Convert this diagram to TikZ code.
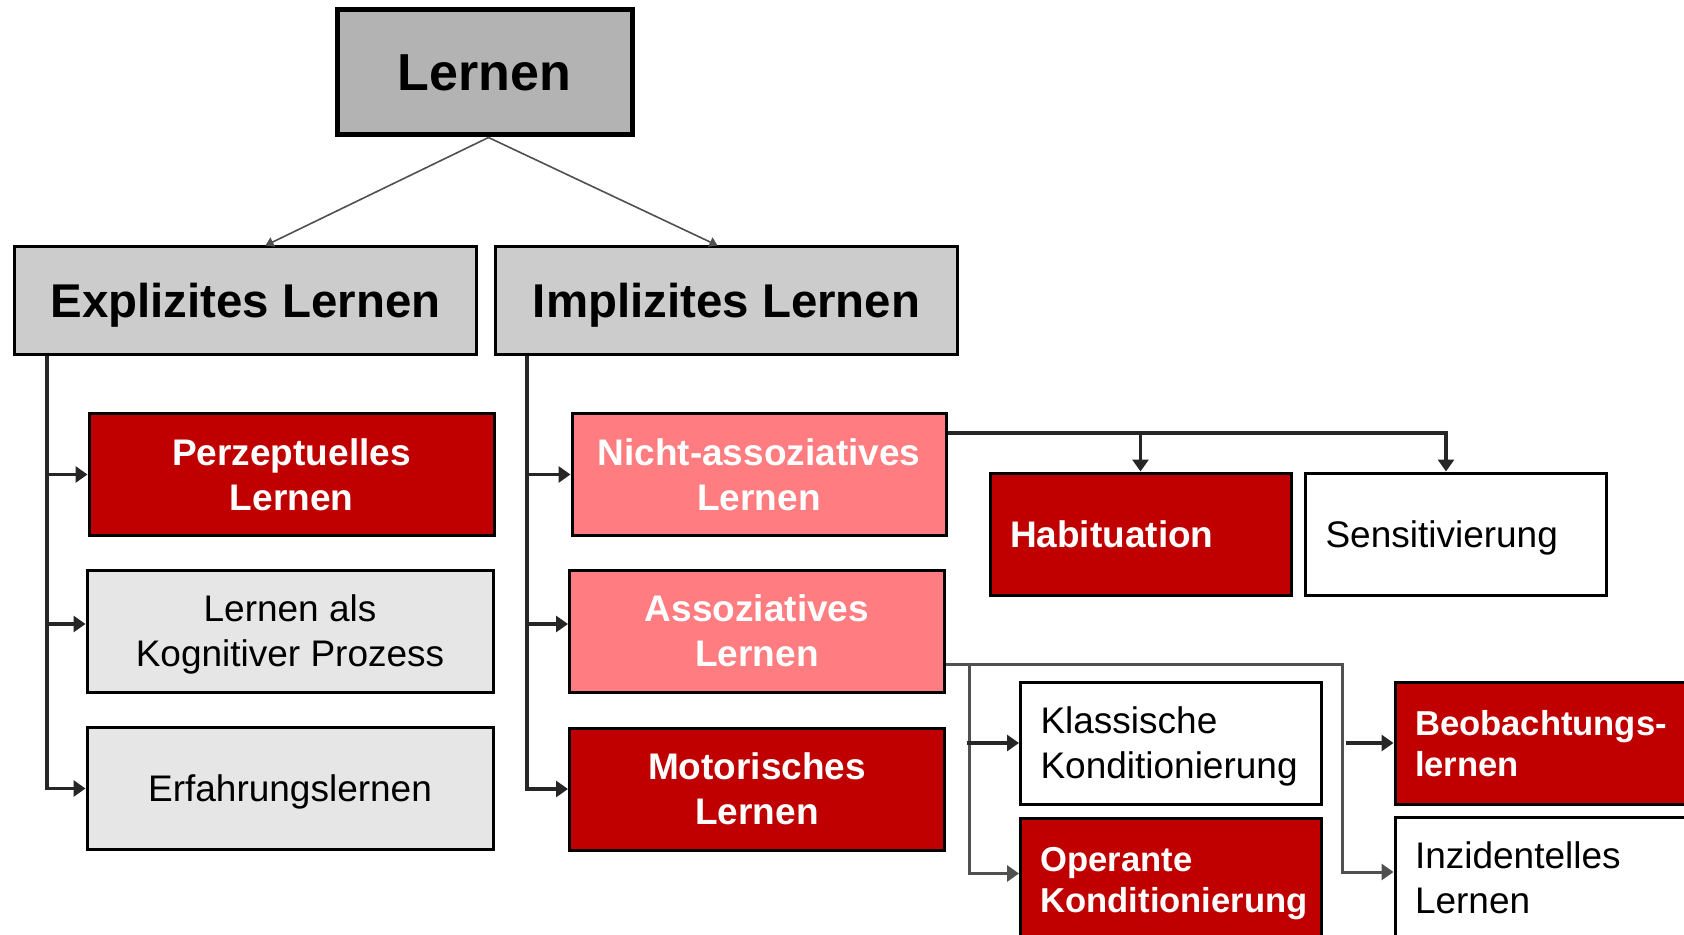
\documentclass[tikz,border=0pt]{standalone}
\usepackage{fontspec}
\setmainfont{Liberation Sans}
\usetikzlibrary{arrows.meta}
\tikzset{>={Triangle[length=6pt,width=8pt]}}
\definecolor{LernDarkRed}{HTML}{C00000}
\definecolor{LernPink}{HTML}{FF7C80}
\definecolor{LernGrayTop}{HTML}{B3B3B3}
\definecolor{LernGrayHead}{HTML}{CCCCCC}
\definecolor{LernGrayLight}{HTML}{E6E6E6}
\definecolor{LernLine}{HTML}{262626}
\definecolor{LernConn}{HTML}{505050}
\newcommand{\boxfont}{\fontsize{18.5}{22.5}\selectfont}
\newcommand{\smallboxfont}{\fontsize{17.3}{20.5}\selectfont}
\tikzset{
  BaseBox/.style={draw=black, line width=1.5pt, inner sep=0pt, align=center,
    minimum height=61pt, text depth=0pt, font=\boxfont},
  TopBox/.style={BaseBox, fill=LernGrayTop, line width=2.5pt,
    minimum width=147.5pt, minimum height=62.5pt,
    font=\fontsize{26}{30}\selectfont\bfseries},
  HeadBox/.style={BaseBox, fill=LernGrayHead, minimum width=231pt,
    minimum height=53.5pt, font=\fontsize{23.7}{28}\selectfont\bfseries},
  RedBox/.style={BaseBox, fill=LernDarkRed, text=white, font=\boxfont\bfseries},
  PinkBox/.style={BaseBox, fill=LernPink, text=white, font=\boxfont\bfseries},
  GrayBox/.style={BaseBox, fill=LernGrayLight},
  WhiteBox/.style={BaseBox, fill=white},
  LeftText/.style={inner xsep=10pt, text width=130.5pt, align=left},
  TwoLines/.style={text depth=22.5pt},
  TwoSmallLines/.style={text depth=20.5pt, font=\smallboxfont\bfseries},
  FlowLine/.style={draw=LernLine, line width=1.6pt},
  ConnLine/.style={draw=LernConn, line width=1.5pt},
  TopArrow/.style={draw=LernConn, line width=0.8pt,
    -{Triangle[length=4pt,width=5pt]}}
}

\begin{document}
\begin{tikzpicture}[x=0.5pt, y=-0.5pt]
    \clip (0,0) rectangle (1684,935);
    \fill[white] (0,0) rectangle (1684,935);

    \node[TopBox] (lernen) at (484.5,72.5) {Lernen};
    \node[HeadBox] (ex) at (245.5,300.5) {Explizites Lernen};
    \node[HeadBox] (im) at (726.5,300.5) {Implizites Lernen};

    % explicit column
    \node[RedBox, minimum width=202.5pt] (per) at (291.5,474.5) {Perzeptuelles\\Lernen};
    \node[GrayBox, minimum width=203pt] (kog) at (290,631) {Lernen als\\Kognitiver Prozess};
    \node[GrayBox, minimum width=203pt] (erf) at (290,788.5) {Erfahrungslernen};

    % implicit column
    \node[PinkBox, minimum width=187pt] (na) at (759,474.5) {Nicht-assoziatives\\Lernen};
    \node[PinkBox, minimum width=187.5pt] (as) at (757,631) {Assoziatives\\Lernen};
    \node[RedBox, minimum width=187.5pt] (mo) at (757,789) {Motorisches\\Lernen};

    \node[RedBox, LeftText] (hab) at (1140.5,534) {Habituation};
    \node[WhiteBox, LeftText] (sens) at (1456,534) {Sensitivierung};
    \node[WhiteBox, LeftText, TwoLines] (kl) at (1171,743) {Klassische\\Konditionierung};
    \node[RedBox, LeftText, TwoSmallLines] (op) at (1171,879.5) {Operante\\Konditionierung};
    \node[RedBox, LeftText, TwoSmallLines] (beo) at (1545.5,743) {Beobachtungs-\\lernen};
    \node[WhiteBox, LeftText, TwoLines] (inz) at (1545.5,878) {Inzidentelles\\Lernen};

    \draw[TopArrow] ([xshift=2pt]lernen.south) -- ([xshift=10pt]ex.north);
    \draw[TopArrow] ([xshift=2pt]lernen.south) -- ([xshift=-4.5pt]im.north);

    \coordinate (exstem) at ([xshift=17pt]ex.south west);
    \coordinate (imstem) at ([xshift=16.5pt]im.south west);
    \coordinate (kogin) at ([yshift=3.5pt]kog.west);
    \coordinate (asin) at ([yshift=3.5pt]as.west);
    \draw[FlowLine, ->] (exstem) |- (erf.west);
    \draw[FlowLine, ->] (exstem |- per.west) -- (per.west);
    \draw[FlowLine, ->] (exstem |- kogin) -- (kogin);
    \draw[FlowLine, ->] (imstem) |- (mo.west);
    \draw[FlowLine, ->] (imstem |- na.west) -- (na.west);
    \draw[FlowLine, ->] (imstem |- asin) -- (asin);

    \coordinate (naout) at ([yshift=-10.5pt]na.north east);
    \coordinate (sensin) at ([xshift=-5pt]sens.north);
    \draw[FlowLine, ->] (naout) -| (sensin);
    \draw[FlowLine, ->] (naout -| hab.north) -- (hab.north);

    \coordinate (asout) at ([yshift=14.5pt]as.south east);
    \coordinate (opin) at ([yshift=3pt]op.west);
    \coordinate (inzin) at ([yshift=3pt]inz.west);
    \draw[ConnLine, ->] (asout) -| ([xshift=-25.5pt]inzin) -- (inzin);
    \draw[ConnLine, ->] ([xshift=11.5pt]asout) |- (opin);
    \draw[FlowLine, ->] ([xshift=-26pt]kl.west) -- (kl.west);
    \draw[FlowLine, ->] ([xshift=-24pt]beo.west) -- (beo.west);
\end{tikzpicture}
\end{document}
